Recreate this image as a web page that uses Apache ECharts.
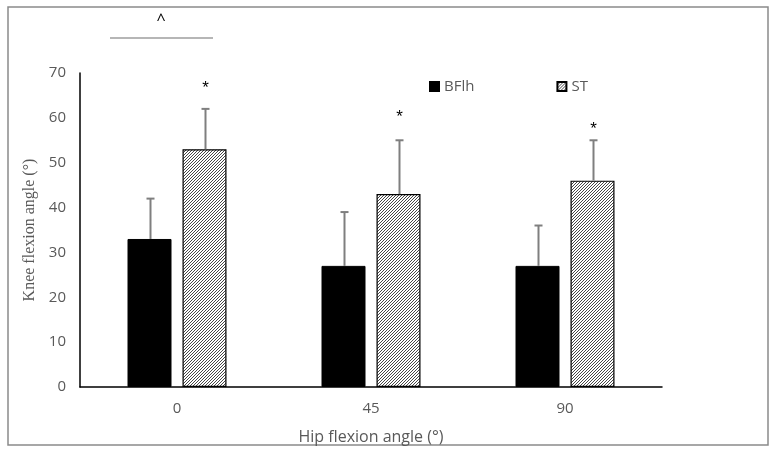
<!DOCTYPE html>
<html><head><meta charset="utf-8">
<script src="https://cdn.jsdelivr.net/npm/echarts@6/dist/echarts.min.js"></script>
<style>html,body{margin:0;padding:0;background:#fff}#c{width:777px;height:454px}</style>
</head><body><div id="c"></div>
<script>
const categories = ['0', '45', '90'];
const bflhMean = [33, 27, 27];
const bflhSD = [9, 12, 9];
const stMean = [53, 43, 46];
const stSD = [9, 12, 9];
const starValues = [67, 60.5, 58];
const yTicks = [0, 10, 20, 30, 40, 50, 60, 70];

function hatch() {
  const n = 3;
  const c = document.createElement('canvas');
  c.width = n; c.height = n;
  const g = c.getContext('2d');
  g.fillStyle = '#fff'; g.fillRect(0, 0, n, n);
  const img = g.getImageData(0, 0, n, n);
  for (let y = 0; y < n; y++) {
    const x = n - 1 - y;
    const k = (y * n + x) * 4;
    img.data[k] = 70; img.data[k + 1] = 70; img.data[k + 2] = 70; img.data[k + 3] = 255;
  }
  g.putImageData(img, 0, 0);
  return c;
}
const pattern = { image: hatch(), repeat: 'repeat' };

const BAR_W = 44, OFFSET = 27.5;
const txt = '#595959';
const sans = 'Open Sans';

function errRender(means, sds, dir, withStars) {
  return function (params, api) {
    const i = params.dataIndex;
    const base = api.coord([i, means[i]]);
    const top = api.coord([i, means[i] + sds[i]]);
    const x = Math.round(base[0] + dir * OFFSET) + 0.5;
    const children = [
      { type: 'line', shape: { x1: x, y1: base[1], x2: x, y2: top[1] }, style: { stroke: '#7f7f7f', lineWidth: 2 } },
      { type: 'line', shape: { x1: x - 4, y1: top[1], x2: x + 4, y2: top[1] }, style: { stroke: '#7f7f7f', lineWidth: 2 } }
    ];
    if (withStars) {
      const s = api.coord([i, starValues[i]]);
      children.push({ type: 'text', style: { text: '*', x: x, y: s[1] + 2, align: 'center', verticalAlign: 'middle', fill: '#000', font: '17px "Liberation Sans"' } });
    }
    return { type: 'group', children };
  };
}

const chart = echarts.init(document.getElementById('c'));
chart.setOption({
  animation: false,
  backgroundColor: '#fff',
  grid: { left: 80, right: 115, top: 73, bottom: 67, containLabel: false },
  legend: {
    left: 424, top: 74, itemWidth: 9, itemHeight: 9, itemGap: 82,
    icon: 'rect',
    textStyle: { color: txt, fontSize: 15, fontFamily: sans },
    data: ['BFlh', 'ST']
  },
  xAxis: {
    type: 'category', data: categories,
    name: 'Hip flexion angle (°)', nameLocation: 'middle', nameGap: 42,
    nameTextStyle: { color: txt, fontSize: 16, fontFamily: sans },
    axisLine: { lineStyle: { color: '#000', width: 1.5 } },
    axisTick: { show: false },
    axisLabel: { color: txt, fontSize: 15, fontFamily: sans, margin: 14 }
  },
  yAxis: {
    type: 'value', min: yTicks[0], max: yTicks[yTicks.length - 1], interval: 10,
    name: 'Knee flexion angle (°)', nameLocation: 'middle', nameGap: 37,
    nameTextStyle: { color: txt, fontSize: 16, fontFamily: 'Liberation Serif' },
    axisLine: { show: true, lineStyle: { color: '#000', width: 1.5 } },
    axisTick: { show: false },
    splitLine: { show: false },
    axisLabel: { color: txt, fontSize: 15, fontFamily: sans, margin: 14 }
  },
  graphic: [
    { type: 'rect', shape: { x: 8, y: 7, width: 760, height: 438 }, style: { fill: 'none', stroke: '#8a8a8a', lineWidth: 1.5 }, z: -1 },
    { type: 'line', shape: { x1: 110, y1: 38, x2: 213, y2: 38 }, style: { stroke: '#6f6f6f', lineWidth: 1.2 } },
    { type: 'text', style: { text: '^', x: 161, y: 20, align: 'center', verticalAlign: 'middle', fill: '#000', font: '16px "Open Sans"' } }
  ],
  series: [
    { name: 'BFlh', type: 'bar', data: bflhMean, barWidth: BAR_W, barGap: '25%',
      itemStyle: { color: '#000', borderColor: '#000', borderWidth: 1 } },
    { name: 'ST', type: 'bar', data: stMean, barWidth: BAR_W,
      itemStyle: { color: pattern, borderColor: '#000', borderWidth: 1.2 } },
    { type: 'custom', data: bflhMean, renderItem: errRender(bflhMean, bflhSD, -1, false), z: 5 },
    { type: 'custom', data: stMean, renderItem: errRender(stMean, stSD, 1, true), z: 5 }
  ]
});
</script></body></html>
